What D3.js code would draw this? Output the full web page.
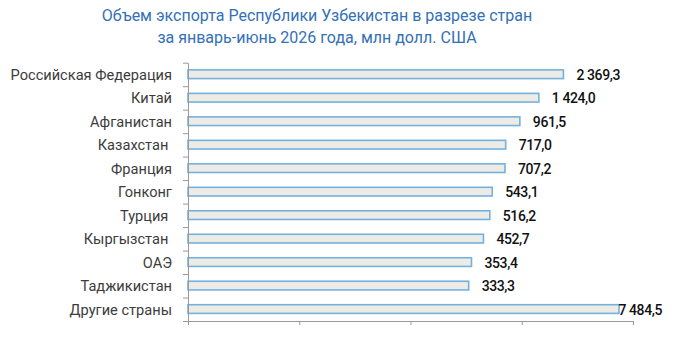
<!DOCTYPE html>
<html>
<head>
<meta charset="utf-8">
<script src="https://cdn.jsdelivr.net/npm/d3@7/dist/d3.min.js"></script>
<style>
  html, body { margin: 0; padding: 0; background: #fff; }
  svg { display: block; }
  text { font-family: Roboto, "Noto Sans", sans-serif; }
  .cat { white-space: pre; }
</style>
</head>
<body>
<svg id="chart" width="680" height="337"></svg>
<script>
// Export of Uzbekistan by country, Jan–Jun 2026, mln USD
const titleLines = [
  "Объем экспорта Республики Узбекистан в разрезе стран",
  "за январь-июнь 2026 года, млн долл. США"
];
const countries = [
  "Российская Федерация", "Китай", "Афганистан", "Казахстан ", "Франция",
  "Гонконг", "Турция ", "Кыргызстан ", "ОАЭ", "Таджикистан", "Другие страны"
];
const exportValues = [2369.3, 1424.0, 961.5, 717.0, 707.2, 543.1, 516.2, 452.7, 353.4, 333.3, 7484.5];
const axisTicks = [1, 10, 100, 1000, 10000];

const fmt = v => {
  const s = d3.format(",.1f")(v);
  return s.replace(/,/g, " ").replace(".", ",");
};

const svg = d3.select("#chart");
const W = 680, H = 337;
const m = { left: 188, right: 47, top: 62.7, bottom: 16 };

// Title
svg.append("g").selectAll("text")
  .data(titleLines)
  .join("text")
  .attr("x", 317)
  .attr("y", (d, i) => 20.7 + i * 22)
  .attr("text-anchor", "middle")
  .attr("font-size", 16)
  .attr("fill", "#3470b6")
  .text(d => d);

// Logarithmic value axis
const x = d3.scaleLog().domain([1, 10000]).range([m.left, W - m.right]);
const y = d3.scaleBand().domain(d3.range(countries.length))
  .range([m.top, H - m.bottom]).padding(0);
const yTicks = d3.scaleLinear().domain([0, countries.length]).range([m.top, H - m.bottom]);

const barH = y.bandwidth() * 0.37;

// Bars
svg.append("g").selectAll("rect")
  .data(exportValues)
  .join("rect")
  .attr("x", x(1))
  .attr("y", (d, i) => y(i) + y.bandwidth() / 2 - barH / 2 - 0.2)
  .attr("width", d => x(d) - x(1))
  .attr("height", barH)
  .attr("fill", "#ecebe5")
  .attr("stroke", "#74b2de")
  .attr("stroke-width", 1.6);

// Axes
const gx = svg.append("g")
  .attr("transform", `translate(0,${H - m.bottom})`)
  .call(d3.axisBottom(x).tickValues(axisTicks).tickFormat("").tickSize(4).tickSizeOuter(0));
const gy = svg.append("g")
  .attr("transform", `translate(${m.left},0)`)
  .call(d3.axisLeft(yTicks).ticks(countries.length).tickFormat("").tickSize(5).tickSizeOuter(0));
[gx, gy].forEach(g => {
  g.selectAll("path, line").attr("stroke", "#9a9a9a").attr("stroke-width", 1);
});

// Category labels
svg.append("g").selectAll("text")
  .data(countries)
  .join("text")
  .attr("class", "cat")
  .attr("x", 172)
  .attr("y", (d, i) => y(i) + y.bandwidth() / 2)
  .attr("dy", "0.38em")
  .attr("text-anchor", "end")
  .attr("font-size", 14.6)
  .attr("fill", "#3c3c3c")
  .text(d => d);

// Value labels
const labelMaxRight = 662;
svg.append("g").selectAll("text")
  .data(exportValues)
  .join("text")
  .attr("y", (d, i) => y(i) + y.bandwidth() / 2)
  .attr("dy", "0.38em")
  .attr("font-size", 14)
  .attr("font-weight", 500)
  .attr("letter-spacing", "-0.4px")
  .attr("fill", "#111")
  .text(d => fmt(d))
  .each(function(d) {
    const w = this.getComputedTextLength();
    d3.select(this).attr("x", Math.min(x(d) + 13, labelMaxRight - w));
  });
</script>
</body>
</html>
